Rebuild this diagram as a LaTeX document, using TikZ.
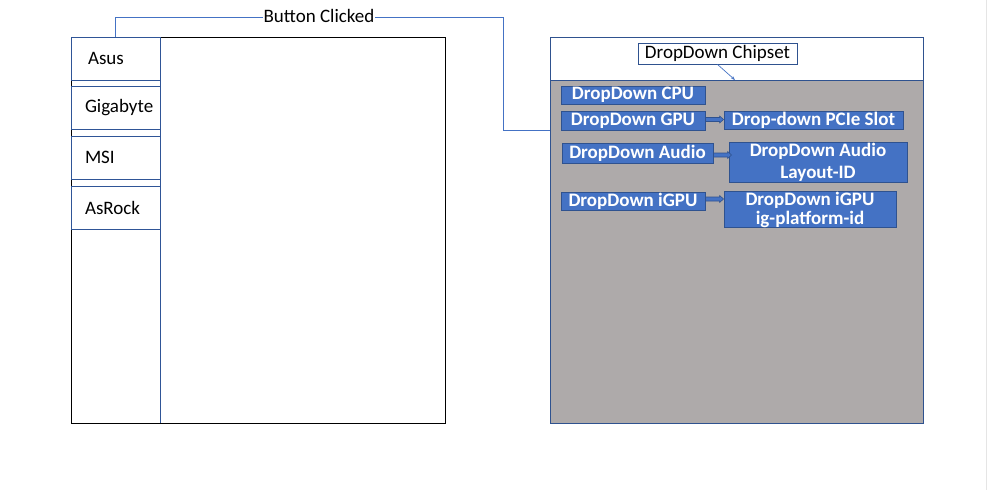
\documentclass[tikz,border=0pt]{standalone}
\usepackage{fontspec}
\setmainfont{Carlito}
\usetikzlibrary{arrows.meta,calc}
\definecolor{bfill}{HTML}{4472C4}
\definecolor{bdark}{HTML}{2F528F}
\definecolor{lblue}{HTML}{2F5597}
\definecolor{panelgray}{HTML}{AEAAAA}
\tikzset{
  brand/.style={draw=lblue, line width=0.9pt, minimum width=89pt, minimum height=43pt, text width=61pt, inner xsep=14pt, align=left, font=\fontsize{19}{22}\selectfont},
  dd/.style={draw=bdark, line width=0.9pt, fill=bfill, text=white, font=\bfseries\fontsize{19}{22}\selectfont, inner sep=0pt, align=center},
  conn/.style={draw=bfill, line width=0.8pt},
  blk/.style={draw=bdark, fill=bfill, line width=0.6pt, line join=miter,
    to path={let \p1=(\tikztostart), \p2=(\tikztotarget) in
      (\x1,\y1+2pt) -- (\x2-4pt,\y1+2pt) -- (\x2-4pt,\y1+3.5pt) -- (\x2,\y1) -- (\x2-4pt,\y1-3.5pt) -- (\x2-4pt,\y1-2pt) -- (\x1,\y1-2pt) -- cycle}},
}
\begin{document}
\begin{tikzpicture}[x=1pt,y=-1pt]
\useasboundingbox (0,0) rectangle (988,490);
\fill[white] (0,0) rectangle (988,490);
\draw[black!10, line width=1pt] (986.5,0) -- (986.5,490);
% left big box
\node[draw=black, line width=0.9pt, minimum width=374pt, minimum height=386pt, inner sep=0pt] (left) at (258,230) {};
\draw[lblue, line width=0.9pt] (160,37) -- (160,423);
\node[brand] (asus) at (115.5,58.5) {\hspace{3pt}Asus};
\node[brand] (giga) at (115.5,108) {Gigabyte};
\node[brand] (msi) at (115.5,157.5) {MSI};
\node[brand] (asrock) at (115.5,207.5) {AsRock};
% right panel
\fill[panelgray] (550,80) rectangle (923,423);
\draw[bdark, line width=0.9pt] (550,80) -- (923,80);
\node[draw=bdark, line width=0.9pt, minimum width=373pt, minimum height=386pt, inner sep=0pt] (panel) at (736.5,230) {};
\node[draw=bdark, line width=0.9pt, fill=white, minimum width=159pt, minimum height=21pt, inner sep=0pt, font=\fontsize{19}{22}\selectfont] (chip) at (717.5,53.5) {DropDown Chipset};
\coordinate (chiptip) at (735,80);
\draw[bfill, line width=0.7pt, -{Stealth[length=4pt,width=3pt]}] (chip.south) -- (chiptip);
% dropdowns
\node[dd, minimum width=144pt, minimum height=18pt] (cpu) at (633,95) {DropDown CPU};
\node[dd, minimum width=144pt, minimum height=19pt] (gpu) at (633,120.5) {DropDown GPU};
\node[dd, minimum width=179pt, minimum height=18pt] (pcie) at (813.5,120) {Drop-down PCIe Slot};
\node[dd, minimum width=151pt, minimum height=20pt] (audio) at (637.5,153) {DropDown Audio};
\node[dd, minimum width=178pt, minimum height=40pt] (audiol) at (818,162) {DropDown Audio\\Layout-ID};
\node[dd, minimum width=144pt, minimum height=18pt] (igpu) at (633,201) {DropDown iGPU};
\node[dd, minimum width=172pt, minimum height=35pt, font=\bfseries\fontsize{19}{20}\selectfont] (plat) at (810,209.5) {DropDown iGPU\\[-1pt]ig-platform-id};
\coordinate (gout) at ([yshift=1pt]gpu.east);
\coordinate (aout) at ([yshift=-2pt]audio.east);
\coordinate (iout) at ([yshift=2pt]igpu.east);
\path[blk] (gout) to (pcie.west |- gout);
\path[blk] (aout) to ($(audiol.west |- aout)+(3,0)$);
\path[blk] (iout) to (plat.west |- iout);
% connector
\coordinate (cin) at (550,130);
\draw[conn] (asus.north) |- (503,17) |- (cin);
\node[fill=white, inner sep=1pt, font=\fontsize{19}{22}\selectfont] (bc) at (319,16) {Button Clicked};
\end{tikzpicture}
\end{document}
